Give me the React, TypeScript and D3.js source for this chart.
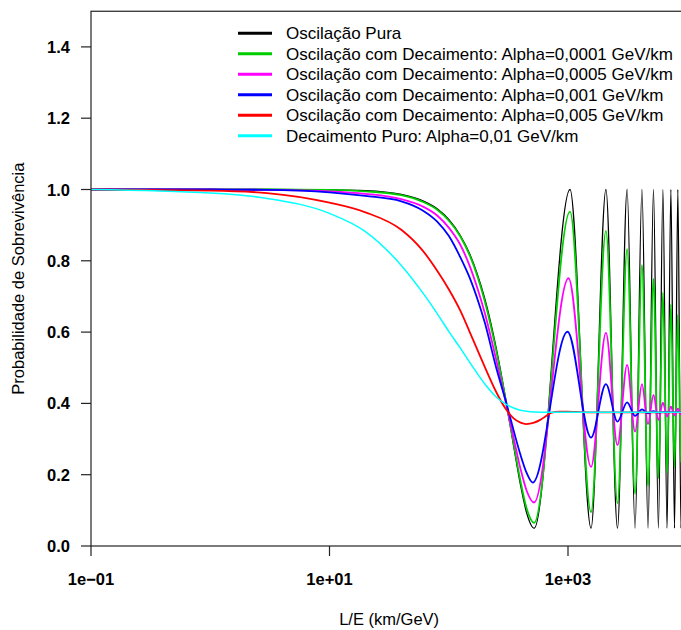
import React from "react";
import * as d3 from "d3";

// ---------- data ----------
// L/E grid (km/GeV) for the smooth part before the first minimum
const gridLE = [0.1, 1, 3, 10, 20, 40, 60, 80, 100, 125, 150, 175, 200, 250, 300, 350, 400, 450];

// positions of extrema of the oscillation (L/E)
const extremaLE = [520, 1040, 1560, 2080, 2600, 3130, 3650, 4170, 4690, 5210, 5730, 6250, 6770, 7290, 7820, 8340, 8860, 9380, 9900];

// Oscilação Pura (black)
const pureSmooth = [1, 1, 1, 0.999, 0.997, 0.986, 0.969, 0.946, 0.916, 0.871, 0.819, 0.759, 0.695, 0.555, 0.413, 0.281, 0.171, 0.093];
const pureExt = [0.05, 1.0, 0.05, 1.0, 0.05, 1.0, 0.05, 1.0, 0.05, 1.0, 0.05, 1.0, 0.05, 1.0, 0.05, 1.0, 0.05, 1.0, 0.05];

// Alpha = 0,0001 (green)
const greenSmooth = [1, 1, 1, 0.999, 0.995, 0.984, 0.966, 0.943, 0.913, 0.868, 0.815, 0.754, 0.688, 0.548, 0.411, 0.287, 0.181, 0.105];
const greenExt = [0.065, 0.938, 0.095, 0.884, 0.12, 0.833, 0.146, 0.788, 0.168, 0.749, 0.19, 0.711, 0.205, 0.678, 0.222, 0.648, 0.235, 0.62, 0.25];

// Alpha = 0,0005 (magenta)
const magentaSmooth = [1, 1, 0.999, 0.995, 0.988, 0.973, 0.953, 0.927, 0.893, 0.845, 0.785, 0.72, 0.655, 0.522, 0.405, 0.303, 0.216, 0.155];
const magentaExtLE = [520, 1010, 1560, 2080, 2600, 3130, 3650, 4170, 4690, 5210, 5730, 6250, 6770, 7290, 7820, 8340, 8860, 9380, 9900];
const magentaExt = [0.122, 0.751, 0.222, 0.598, 0.283, 0.508, 0.321, 0.454, 0.342, 0.424, 0.353, 0.402, 0.363, 0.391, 0.366, 0.385, 0.369, 0.381, 0.371];

// Alpha = 0,001 (blue)
const blueSmooth = [1, 1, 0.999, 0.992, 0.982, 0.967, 0.942, 0.91, 0.87, 0.81, 0.752, 0.69, 0.628, 0.5, 0.408, 0.324, 0.255, 0.205];
const blueExtLE = [506, 990, 1560, 2080, 2600, 3130, 3650, 4170, 4690, 5210, 5730, 6250, 10000];
const blueExt = [0.178, 0.601, 0.304, 0.454, 0.349, 0.403, 0.365, 0.383, 0.372, 0.378, 0.374, 0.376, 0.375];

// Alpha = 0,005 (red)
const redLE = [0.1, 1, 3, 10, 20, 40, 60, 80, 100, 125, 150, 175, 200, 250, 300, 350, 400, 445, 520, 580, 650, 730, 850, 975, 1200, 1600, 10000];
const redP = [1, 0.997, 0.99, 0.963, 0.936, 0.887, 0.83, 0.772, 0.72, 0.66, 0.6, 0.548, 0.503, 0.432, 0.385, 0.358, 0.346, 0.342, 0.346, 0.353, 0.364, 0.374, 0.377, 0.377, 0.376, 0.375, 0.375];

// Decaimento Puro (cyan)
const cyanLE = [0.1, 1, 3, 10, 20, 40, 60, 80, 100, 125, 150, 175, 200, 250, 300, 350, 400, 450, 521, 700, 10000];
const cyanP = [1, 0.99, 0.975, 0.933, 0.882, 0.787, 0.712, 0.652, 0.602, 0.555, 0.515, 0.482, 0.455, 0.418, 0.398, 0.387, 0.381, 0.378, 0.376, 0.375, 0.375];

const legendLabels = [
  "Oscilação Pura",
  "Oscilação com Decaimento: Alpha=0,0001 GeV/km",
  "Oscilação com Decaimento: Alpha=0,0005 GeV/km",
  "Oscilação com Decaimento: Alpha=0,001 GeV/km",
  "Oscilação com Decaimento: Alpha=0,005 GeV/km",
  "Decaimento Puro: Alpha=0,01 GeV/km",
];
const seriesColors = ["#000000", "#00CD00", "#FF00FF", "#0000FF", "#FF0000", "#00FFFF"];

const xTickValues = [0.1, 10, 1000];
const xTickLabels = ["1e\u221201", "1e+01", "1e+03"];
const yTickValues = [0, 0.2, 0.4, 0.6, 0.8, 1.0, 1.2, 1.4];
const yTickLabels = ["0.0", "0.2", "0.4", "0.6", "0.8", "1.0", "1.2", "1.4"];

const zip = (a: number[], b: number[]): [number, number][] => a.map((v, i) => [v, b[i]]);

const FONT = "'Liberation Sans', Arial, Helvetica, sans-serif";

export default function App() {
  const W = 681, H = 630;
  const x = d3.scaleLog().domain([0.1, 10000]).range([91, 687.25]);
  const y = d3.scaleLinear().domain([0, 1.5]).range([546, 11.25]);
  const line = d3
    .line<[number, number]>()
    .x((d) => x(d[0]))
    .y((d) => y(d[1]))
    .curve(d3.curveMonotoneX);

  const series: { pts: [number, number][]; color: string; w: number }[] = [
    { pts: [...zip(gridLE, pureSmooth), ...zip(extremaLE, pureExt)], color: seriesColors[0], w: 1.3 },
    { pts: [...zip(gridLE, greenSmooth), ...zip(extremaLE, greenExt)], color: seriesColors[1], w: 1.8 },
    { pts: [...zip(gridLE, magentaSmooth), ...zip(magentaExtLE, magentaExt)], color: seriesColors[2], w: 1.8 },
    { pts: [...zip(gridLE, blueSmooth), ...zip(blueExtLE, blueExt)], color: seriesColors[3], w: 1.8 },
    { pts: zip(redLE, redP), color: seriesColors[4], w: 1.8 },
    { pts: zip(cyanLE, cyanP), color: seriesColors[5], w: 1.5 },
  ];

  const [x0, x1] = x.range();
  const [yb, yt] = y.range();

  return (
    <svg
      width={W}
      height={H}
      style={{ position: "absolute", left: 0, top: 0, background: "#fff" }}
      fontFamily={FONT}
    >
      <defs>
        <clipPath id="plotclip">
          <rect x={x0} y={yt} width={x1 - x0} height={yb - yt} />
        </clipPath>
      </defs>
      <rect x={0} y={0} width={W} height={H} fill="#fff" />

      <g clipPath="url(#plotclip)">
        {series.map((s, i) => (
          <path key={i} d={line(s.pts) || ""} fill="none" stroke={s.color} strokeWidth={s.w} strokeLinejoin="round" />
        ))}
      </g>

      {/* box */}
      <rect x={x0} y={yt} width={x1 - x0} height={yb - yt} fill="none" stroke="#222" strokeWidth={1.2} />

      {/* y axis */}
      {yTickValues.map((v, i) => (
        <g key={"y" + i}>
          <line x1={x0 - 10} x2={x0} y1={y(v)} y2={y(v)} stroke="#222" strokeWidth={1.2} />
          <text x={70} y={y(v) + 6} textAnchor="end" fontWeight="bold" fontSize={16.5} fill="#000">
            {yTickLabels[i]}
          </text>
        </g>
      ))}

      {/* x axis */}
      {xTickValues.map((v, i) => (
        <g key={"x" + i}>
          <line x1={x(v)} x2={x(v)} y1={yb} y2={yb + 10} stroke="#222" strokeWidth={1.2} />
          <text x={x(v)} y={585} textAnchor="middle" fontWeight="bold" fontSize={16.5} fill="#000">
            {xTickLabels[i]}
          </text>
        </g>
      ))}

      <text x={(x0 + x1) / 2} y={625} textAnchor="middle" fontSize={16.5} fill="#000">
        L/E (km/GeV)
      </text>
      <text transform={`translate(24, ${(yb + yt) / 2}) rotate(-90)`} textAnchor="middle" fontSize={16.5} fill="#000">
        Probabilidade de Sobrevivência
      </text>

      {/* legend */}
      {legendLabels.map((lab, i) => {
        const ly = 33.3 + i * 20.5;
        return (
          <g key={"l" + i}>
            <line x1={238} x2={272} y1={ly} y2={ly} stroke={seriesColors[i]} strokeWidth={3} />
            <text x={286} y={ly + 6} fontSize={17} fill="#000">
              {lab}
            </text>
          </g>
        );
      })}
    </svg>
  );
}
